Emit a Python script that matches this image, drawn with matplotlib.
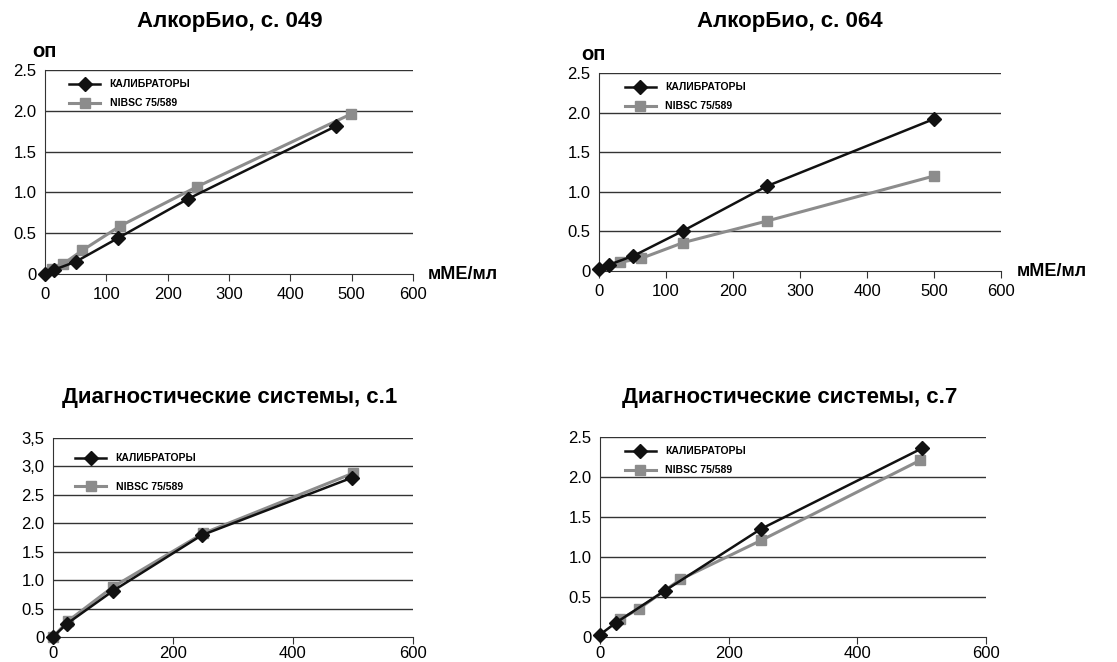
import matplotlib
matplotlib.use("Agg")
import matplotlib.pyplot as plt

plt.rcParams['font.family'] = ['Liberation Sans', 'DejaVu Sans']

# АлкорБио, с. 049
p1_cal_x = [0, 14, 50, 119, 233, 474]
p1_cal_y = [0, 0.05, 0.15, 0.44, 0.92, 1.81]
p1_nib_x = [11, 29, 61, 123, 248, 499]
p1_nib_y = [0.06, 0.12, 0.29, 0.59, 1.07, 1.96]

# АлкорБио, с. 064
p2_cal_x = [0, 15, 51, 126, 250, 500]
p2_cal_y = [0.02, 0.08, 0.19, 0.51, 1.07, 1.92]
p2_nib_x = [31, 63, 126, 250, 500]
p2_nib_y = [0.11, 0.16, 0.36, 0.63, 1.20]

# Диагностические системы, с.1
p3_cal_x = [0, 23, 100, 248, 498]
p3_cal_y = [0, 0.23, 0.81, 1.79, 2.80]
p3_nib_x = [0, 25, 100, 250, 500]
p3_nib_y = [0, 0.28, 0.88, 1.82, 2.88]

# Диагностические системы, с.7
p4_cal_x = [0, 25, 101, 250, 501]
p4_cal_y = [0.03, 0.18, 0.58, 1.35, 2.36]
p4_nib_x = [31, 60, 125, 251, 498]
p4_nib_y = [0.22, 0.35, 0.72, 1.21, 2.21]

titles = ["АлкорБио, с. 049", "АлкорБио, с. 064",
          "Диагностические системы, с.1", "Диагностические системы, с.7"]
yticks_top = [0, 0.5, 1.0, 1.5, 2.0, 2.5]
ylabels_top = ["0", "0.5", "1.0", "1.5", "2.0", "2.5"]
yticks_p3 = [0, 0.5, 1.0, 1.5, 2.0, 2.5, 3.0, 3.5]
ylabels_p3 = ["0", "0.5", "1.0", "1.5", "2.0", "2.5", "3,0", "3,5"]
xticks_top = [0, 100, 200, 300, 400, 500, 600]
xticks_bot = [0, 200, 400, 600]

GRAY = "#8c8c8c"
fig = plt.figure(figsize=(11.17, 6.62), dpi=100)

rects = [
    [0.0403, 0.5861, 0.3294, 0.3082],
    [0.5363, 0.5906, 0.3599, 0.2991],
    [0.0474, 0.0378, 0.3223, 0.3006],
    [0.5372, 0.0378, 0.3455, 0.3021],
]
data = [
    (p1_cal_x, p1_cal_y, p1_nib_x, p1_nib_y, yticks_top, ylabels_top, xticks_top),
    (p2_cal_x, p2_cal_y, p2_nib_x, p2_nib_y, yticks_top, ylabels_top, xticks_top),
    (p3_cal_x, p3_cal_y, p3_nib_x, p3_nib_y, yticks_p3, ylabels_p3, xticks_bot),
    (p4_cal_x, p4_cal_y, p4_nib_x, p4_nib_y, yticks_top, ylabels_top, xticks_bot),
]
title_pos = [(230 / 1117, 1 - 22 / 662), (790 / 1117, 1 - 22 / 662),
             (230 / 1117, 1 - 398 / 662), (790 / 1117, 1 - 398 / 662)]
leg_spacing = [0.85, 0.85, 1.75, 0.85]
leg_anchor = [(0.04, 1.0), (0.04, 1.0), (0.035, 0.97), (0.04, 1.0)]

for i, (rect, d) in enumerate(zip(rects, data)):
    cx, cy, nx, ny, yt, yl, xt = d
    ax = fig.add_axes(rect)
    ax.plot(nx, ny, color=GRAY, lw=2.2, marker="s", ms=7.5, mec=GRAY,
            label="NIBSC 75/589", zorder=3, clip_on=False)
    ax.plot(cx, cy, color="#111111", lw=1.8, marker="D", ms=7.5,
            label="КАЛИБРАТОРЫ", zorder=4, clip_on=False)
    ax.set_xlim(0, 600)
    ax.set_ylim(0, yt[-1])
    ax.set_yticks(yt)
    ax.set_yticklabels(yl)
    ax.set_xticks(xt)
    for y in yt[1:]:
        ax.axhline(y, color="#333333", lw=1.0, zorder=1)
    for s in ["top", "right"]:
        ax.spines[s].set_visible(False)
    ax.spines["left"].set_color("#333333")
    ax.spines["bottom"].set_color("#333333")
    ax.tick_params(axis="y", length=0, pad=6, labelsize=12)
    ax.tick_params(axis="x", length=5, direction="out", color="#333333",
                   labelsize=12, pad=4 if i < 2 else 1.5)
    h, l = ax.get_legend_handles_labels()
    ax.legend(h[::-1], l[::-1], loc="upper left", frameon=False,
              prop={"weight": "bold", "size": 7.5}, handlelength=3.0,
              handletextpad=0.9, bbox_to_anchor=leg_anchor[i],
              labelspacing=leg_spacing[i])
    fig.text(title_pos[i][0], title_pos[i][1], titles[i], ha="center",
             va="center", fontsize=16, fontweight="bold")
    if i < 2:
        ax.text(-0.035 if i == 0 else -0.045, 1.045, "оп", transform=ax.transAxes,
                fontsize=14.5, fontweight="bold", ha="left", va="bottom")
        ax.text(1.04, 0.0, "мМЕ/мл", transform=ax.transAxes, fontsize=13,
                fontweight="bold", ha="left", va="center")

fig.savefig("out.png", dpi=100)
